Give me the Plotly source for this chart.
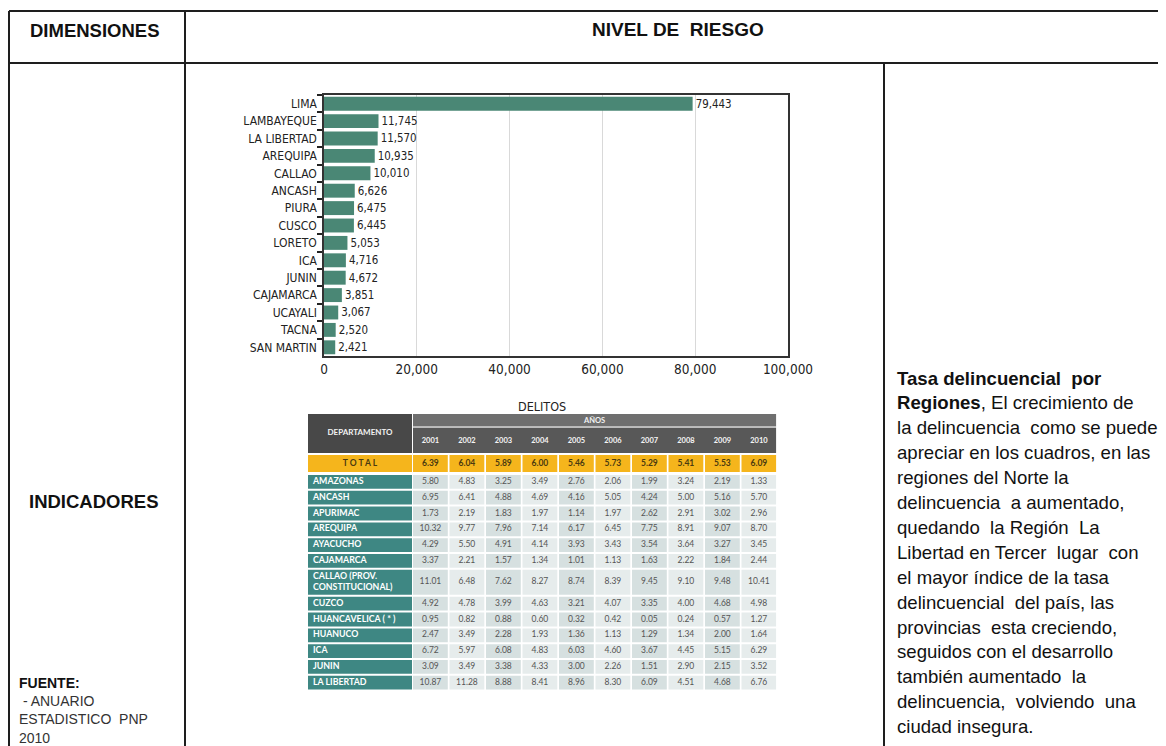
import plotly.graph_objects as go

W, H = 1166, 746
OFF = 8  # page body margin of the browser shifts the figure by this much

# ---------------- data: bar chart ----------------
regions = ["LIMA", "LAMBAYEQUE", "LA LIBERTAD", "AREQUIPA", "CALLAO", "ANCASH", "PIURA",
           "CUSCO", "LORETO", "ICA", "JUNIN", "CAJAMARCA", "UCAYALI", "TACNA", "SAN MARTIN"]
delitos = [79443, 11745, 11570, 10935, 10010, 6626, 6475, 6445, 5053, 4716, 4672, 3851,
           3067, 2520, 2421]
x_ticks = [0, 20000, 40000, 60000, 80000, 100000]

# ---------------- data: table ----------------
years = ["2001", "2002", "2003", "2004", "2005", "2006", "2007", "2008", "2009", "2010"]
total_rate = [6.39, 6.04, 5.89, 6.00, 5.46, 5.73, 5.29, 5.41, 5.53, 6.09]
departamentos = ["AMAZONAS", "ANCASH", "APURIMAC", "AREQUIPA", "AYACUCHO", "CAJAMARCA",
                 "CALLAO (PROV.<br>CONSTITUCIONAL)", "CUZCO", "HUANCAVELICA ( * )",
                 "HUANUCO", "ICA", "JUNIN", "LA LIBERTAD"]
amazonas = [5.80, 4.83, 3.25, 3.49, 2.76, 2.06, 1.99, 3.24, 2.19, 1.33]
ancash = [6.95, 6.41, 4.88, 4.69, 4.16, 5.05, 4.24, 5.00, 5.16, 5.70]
apurimac = [1.73, 2.19, 1.83, 1.97, 1.14, 1.97, 2.62, 2.91, 3.02, 2.96]
arequipa = [10.32, 9.77, 7.96, 7.14, 6.17, 6.45, 7.75, 8.91, 9.07, 8.70]
ayacucho = [4.29, 5.50, 4.91, 4.14, 3.93, 3.43, 3.54, 3.64, 3.27, 3.45]
cajamarca = [3.37, 2.21, 1.57, 1.34, 1.01, 1.13, 1.63, 2.22, 1.84, 2.44]
callao = [11.01, 6.48, 7.62, 8.27, 8.74, 8.39, 9.45, 9.10, 9.48, 10.41]
cuzco = [4.92, 4.78, 3.99, 4.63, 3.21, 4.07, 3.35, 4.00, 4.68, 4.98]
huancavelica = [0.95, 0.82, 0.88, 0.60, 0.32, 0.42, 0.05, 0.24, 0.57, 1.27]
huanuco = [2.47, 3.49, 2.28, 1.93, 1.36, 1.13, 1.29, 1.34, 2.00, 1.64]
ica = [6.72, 5.97, 6.08, 4.83, 6.03, 4.60, 3.67, 4.45, 5.15, 6.29]
junin = [3.09, 3.49, 3.38, 4.33, 3.00, 2.26, 1.51, 2.90, 2.15, 3.52]
la_libertad = [10.87, 11.28, 8.88, 8.41, 8.96, 8.30, 6.09, 4.51, 4.68, 6.76]
tabla = [amazonas, ancash, apurimac, arequipa, ayacucho, cajamarca, callao, cuzco,
         huancavelica, huanuco, ica, junin, la_libertad]

# ---------------- text ----------------
parrafo = [
    "<b>Tasa delincuencial  por</b>",
    "<b>Regiones</b>, El crecimiento de",
    "la delincuencia  como se puede",
    "apreciar en los cuadros, en las",
    "regiones del Norte la",
    "delincuencia  a aumentado,",
    "quedando  la Región  La",
    "Libertad en Tercer  lugar  con",
    "el mayor índice de la tasa",
    "delincuencial  del país, las",
    "provincias  esta creciendo,",
    "seguidos con el desarrollo",
    "también aumentado  la",
    "delincuencia,  volviendo  una",
    "ciudad insegura.",
]
fuente = ["<b>FUENTE:</b>", "<span style='color:#333'> - ANUARIO</span>",
          "<span style='color:#333'>ESTADISTICO  PNP</span>",
          "<span style='color:#333'>2010</span>"]

# ---------------- helpers (screen pixel -> paper fraction) ----------------
def px(x):
    return max(0.0, min(1.0, (x - OFF) / W))

def py(y):
    return max(0.0, min(1.0, 1 - (y - OFF) / H))

BIG = "Liberation Sans, Arial, sans-serif"
CHART = "DejaVu Sans Condensed, DejaVu Sans, sans-serif"
TAB = "Lato, DejaVu Sans, sans-serif"

fig = go.Figure()

# ---------------- bar chart ----------------
fig.add_trace(go.Bar(
    x=delitos, y=regions, orientation="h",
    marker=dict(color="#4A8775", line=dict(width=0)),
    text=[f"{v:,}" for v in delitos], textposition="outside", cliponaxis=False,
    textfont=dict(family=CHART, size=11.5, color="#222"),
    xaxis="x", yaxis="y", showlegend=False, hoverinfo="x+y",
))

# ---------------- table geometry (table-local units) ----------------
dept_w = 104
col0 = 105
col_pitch = 36.5
col_w = 34.8
tab_w = col0 + 9 * col_pitch + col_w
hdr_band = 12.5
hdr_sep = 14
hdr_h = 39
tot_top, tot_h = 41, 17
row_top0 = 61
row_h, row_gap = 13.8, 2.0
tall_h = 25
tab_h = 281

shapes = []
def rect(x0, x1, y0, y1, color):
    shapes.append(dict(type="rect", xref="x2", yref="y2", x0=x0, x1=x1, y0=y0, y1=y1,
                       fillcolor=color, line=dict(width=0), layer="below"))

tx, ty, tt, tc, ts, tp = [], [], [], [], [], []
def txt(x, y, s, color, size, pos):
    tx.append(x); ty.append(y); tt.append(s); tc.append(color); ts.append(size); tp.append(pos)

# header
rect(0, dept_w, 0, hdr_h, "#484848")
rect(col0, tab_w, 0, hdr_band, "#6F6F6F")
rect(col0, tab_w, hdr_band, hdr_sep, "#BDBDBD")
rect(col0, tab_w, hdr_sep, hdr_h, "#585858")
txt(dept_w / 2, hdr_h / 2 - 1, "<b>DEPARTAMENTO</b>", "#F2F2F2", 8, "middle center")
txt((col0 + tab_w) / 2, hdr_band / 2 + 0.5, "<b>AÑOS</b>", "#F2F2F2", 7.5, "middle center")
for i, yr in enumerate(years):
    cx = col0 + i * col_pitch + col_w / 2
    txt(cx, (hdr_sep + hdr_h) / 2 + 1, f"<b>{yr}</b>", "#F5F5F5", 7.5, "middle center")

# total row
rect(0, dept_w, tot_top, tot_top + tot_h, "#F5B51C")
txt(dept_w / 2, tot_top + tot_h / 2, "<b>T O T A L</b>", "#4A3A10", 8.5, "middle center")
for i, v in enumerate(total_rate):
    x0 = col0 + i * col_pitch
    rect(x0, x0 + col_w, tot_top, tot_top + tot_h, "#F5B51C")
    txt(x0 + col_w / 2, tot_top + tot_h / 2, f"<b>{v:.2f}</b>", "#4A3A10", 8.5, "middle center")

# body rows
y = row_top0
for name, vals in zip(departamentos, tabla):
    h = tall_h if "<br>" in name else row_h
    rect(0, dept_w, y, y + h, "#3E8783")
    txt(5, y + h / 2, f"<b>{name}</b>", "#FFFFFF", 8.8, "middle right")
    for i, v in enumerate(vals):
        x0 = col0 + i * col_pitch
        rect(x0, x0 + col_w, y, y + h, "#D6E0E0" if i % 2 == 0 else "#E6ECEC")
        txt(x0 + col_w / 2, y + h / 2, f"{v:.2f}", "#555555", 8.5, "middle center")
    y += h + row_gap

fig.add_trace(go.Scatter(
    x=tx, y=ty, text=tt, mode="text", textposition=tp,
    textfont=dict(family=TAB, size=ts, color=tc),
    xaxis="x2", yaxis="y2", showlegend=False, hoverinfo="skip", cliponaxis=True,
))

# ---------------- frame lines ----------------
LC = "#1E1E1E"
for (x0, y0, x1, y1) in [(9, 11, W + OFF, 11), (9, 63, W + OFF, 63), (9, 11, 9, H + OFF),
                         (185, 11, 185, H + OFF), (884, 63, 884, H + OFF)]:
    shapes.append(dict(type="line", xref="paper", yref="paper",
                       x0=px(x0), y0=py(y0), x1=px(x1), y1=py(y1),
                       line=dict(color=LC, width=2)))

annotations = [
    dict(text="<b>DIMENSIONES</b>", x=px(95), y=py(30), xref="paper", yref="paper",
         xanchor="center", yanchor="middle",
         showarrow=False, font=dict(family=BIG, size=18.5, color="#111")),
    dict(text="<b>NIVEL DE  RIESGO</b>", x=px(678), y=py(29), xref="paper", yref="paper",
         xanchor="center", yanchor="middle",
         showarrow=False, font=dict(family=BIG, size=19, color="#111")),
    dict(text="<b>INDICADORES</b>", x=px(94), y=py(501), xref="paper", yref="paper",
         xanchor="center", yanchor="middle",
         showarrow=False, font=dict(family=BIG, size=18.5, color="#111")),
    dict(text="<br>".join(fuente), x=px(17), y=py(710), xref="paper", yref="paper",
         xanchor="left", yanchor="middle", align="left", showarrow=False,
         font=dict(family=BIG, size=14, color="#111")),
    dict(text="DELITOS", x=px(542), y=py(406), xref="paper", yref="paper",
         xanchor="center", yanchor="middle",
         showarrow=False, font=dict(family=CHART, size=12.5, color="#222")),
]
# paragraph: one annotation per line so the line pitch matches the slide
line_pitch = 24.9
for i, line in enumerate(parrafo):
    annotations.append(dict(
        text=line, x=px(895), y=py(378 + i * line_pitch), xref="paper", yref="paper",
        xanchor="left", yanchor="middle", align="left", showarrow=False,
        font=dict(family=BIG, size=18.6, color="#111")))

fig.update_layout(
    width=W, height=H,
    margin=dict(l=0, r=0, t=0, b=0, pad=0, autoexpand=False),
    paper_bgcolor="white", plot_bgcolor="white",
    bargap=0.2,
    xaxis=dict(domain=[px(324), px(788)], range=[0, 100000], tickvals=x_ticks,
               tickformat=",", showgrid=True, gridcolor="#D9D9D9", gridwidth=1,
               zeroline=False, showline=True, mirror=True, linecolor="#333", linewidth=1.5,
               ticks="", tickfont=dict(family=CHART, size=13.5, color="#222"),
               anchor="y", fixedrange=True, automargin=False),
    yaxis=dict(domain=[py(356), py(95)], type="category", autorange="reversed",
               showline=True, mirror=True, linecolor="#333", linewidth=1.5,
               ticks="outside", tickson="boundaries", ticklen=5, tickwidth=1.5,
               tickcolor="#222", showgrid=False, ticklabelstandoff=3,
               tickfont=dict(family=CHART, size=12, color="#222"),
               anchor="x", fixedrange=True, automargin=False),
    xaxis2=dict(domain=[px(308), px(308) + tab_w / W], range=[0, tab_w], visible=False,
                anchor="y2", fixedrange=True, automargin=False),
    yaxis2=dict(domain=[py(414) - tab_h / H, py(414)], range=[tab_h, 0], visible=False,
                anchor="x2", fixedrange=True, automargin=False),
    shapes=shapes,
    annotations=annotations,
)

fig.write_html("out.html")
